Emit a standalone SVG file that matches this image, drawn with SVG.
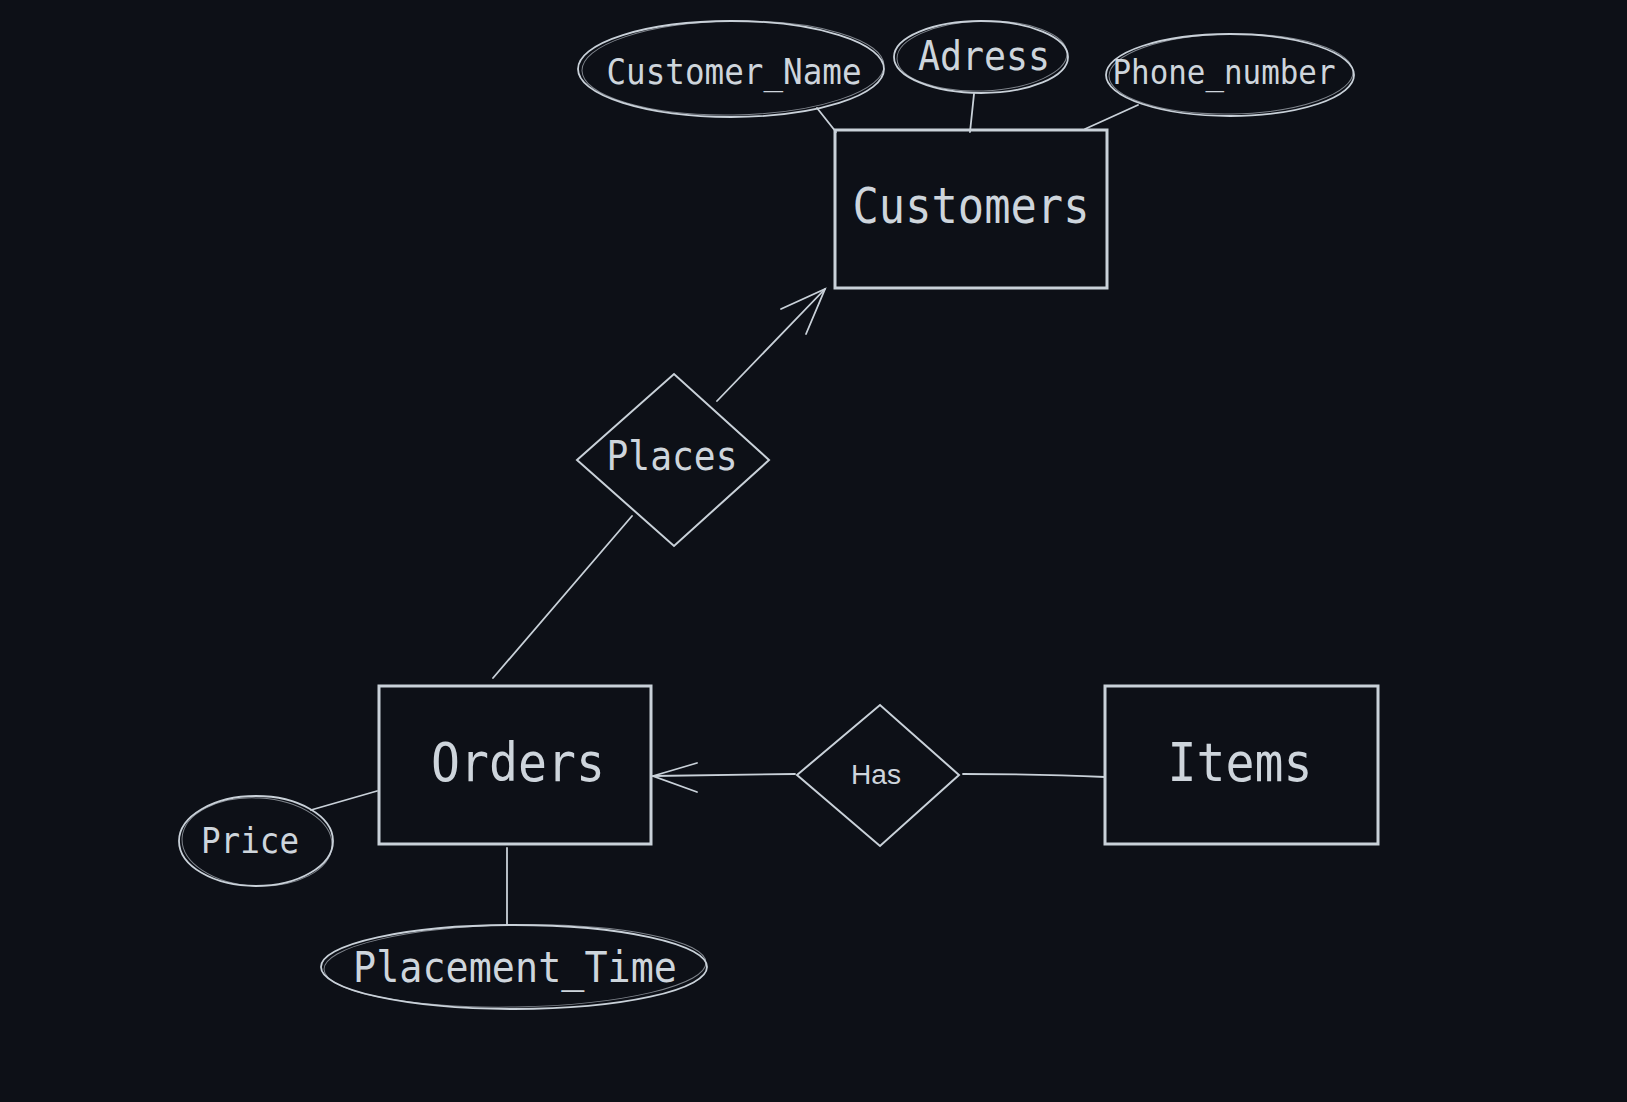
<svg xmlns="http://www.w3.org/2000/svg" width="1627" height="1102" viewBox="0 0 1627 1102">
<style>
.ent{fill:none;stroke:#c9d1d9;stroke-width:3}
.rel{fill:none;stroke:#c9d1d9;stroke-width:2}
.att{fill:none;stroke:#c9d1d9;stroke-width:1.8}
.att2{fill:none;stroke:#c9d1d9;stroke-width:1;opacity:0.6}
.ln{fill:none;stroke:#c9d1d9;stroke-width:1.8;stroke-linecap:round}
text{fill:#ced5dc;font-family:"DejaVu Sans Mono","Liberation Mono",monospace;text-anchor:middle;dominant-baseline:central}
</style>
<rect width="1627" height="1102" fill="#0d1017"/>
<g id="connectors">
<line class="ln" x1="817" y1="108" x2="836" y2="132"/>
<line class="ln" x1="974" y1="94" x2="970" y2="132"/>
<line class="ln" x1="1138" y1="105" x2="1085" y2="129"/>
<line class="ln" x1="717" y1="401" x2="825" y2="289"/>
<polyline class="ln" points="781,309 825,289 806,334"/>
<line class="ln" x1="493" y1="678" x2="632" y2="516"/>
<line class="ln" x1="795" y1="774" x2="653" y2="776"/>
<polyline class="ln" points="697,763 653,776 697,792"/>
<path class="ln" d="M963 774 Q1040 774 1105 777"/>
<line class="ln" x1="311" y1="810" x2="377" y2="791"/>
<line class="ln" x1="507" y1="848" x2="507" y2="925"/>
</g>
<g id="customers">
<rect class="ent" x="835" y="130" width="272" height="158"/>
<text x="971" y="206" font-size="49" textLength="237" lengthAdjust="spacingAndGlyphs">Customers</text>
</g>
<g id="orders">
<rect class="ent" x="379" y="686" width="272" height="158"/>
<text x="518" y="762" font-size="54" textLength="174" lengthAdjust="spacingAndGlyphs">Orders</text>
</g>
<g id="items">
<rect class="ent" x="1105" y="686" width="273" height="158"/>
<text x="1240" y="762" font-size="54" textLength="145" lengthAdjust="spacingAndGlyphs">Items</text>
</g>
<g id="places">
<polygon class="rel" points="577,460 674,374 769,460 674,546"/>
<text x="672" y="456" font-size="40" textLength="131" lengthAdjust="spacingAndGlyphs">Places</text>
</g>
<g id="has">
<polygon class="rel" points="797,775 880,705 959,775 880,846"/>
<text x="876" y="775" font-size="27" textLength="50" lengthAdjust="spacingAndGlyphs" style="font-family:'Liberation Sans','DejaVu Sans',sans-serif">Has</text>
</g>
<g id="customer_name">
<ellipse class="att" cx="731" cy="69" rx="153" ry="48"/>
<ellipse class="att2" cx="733" cy="68" rx="151" ry="47" transform="rotate(-1 733 68)"/>
<text x="734" y="71" font-size="36" textLength="255" lengthAdjust="spacingAndGlyphs">Customer_Name</text>
</g>
<g id="adress">
<ellipse class="att" cx="981" cy="57" rx="87" ry="36"/>
<ellipse class="att2" cx="982" cy="56" rx="85" ry="35" transform="rotate(-2 982 56)"/>
<text x="984" y="56" font-size="41" textLength="132" lengthAdjust="spacingAndGlyphs">Adress</text>
</g>
<g id="phone_number">
<ellipse class="att" cx="1230" cy="75" rx="124" ry="41"/>
<ellipse class="att2" cx="1231" cy="74" rx="122" ry="40" transform="rotate(-1 1231 74)"/>
<text x="1224" y="72" font-size="34" textLength="223" lengthAdjust="spacingAndGlyphs">Phone_number</text>
</g>
<g id="price">
<ellipse class="att" cx="256" cy="841" rx="77" ry="45"/>
<ellipse class="att2" cx="257" cy="842" rx="75" ry="44" transform="rotate(3 257 842)"/>
<text x="250" y="840" font-size="36" textLength="98" lengthAdjust="spacingAndGlyphs">Price</text>
</g>
<g id="placement_time">
<ellipse class="att" cx="514" cy="967" rx="193" ry="42"/>
<ellipse class="att2" cx="515" cy="966" rx="191" ry="41" transform="rotate(-1 515 966)"/>
<text x="515" y="967" font-size="43" textLength="324" lengthAdjust="spacingAndGlyphs">Placement_Time</text>
</g>
</svg>
